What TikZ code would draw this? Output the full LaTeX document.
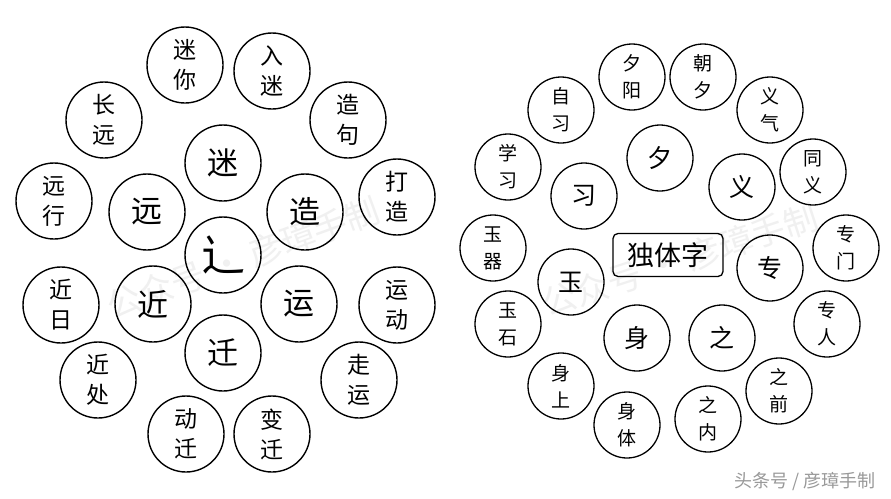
\documentclass[tikz,border=0pt]{standalone}
\usepackage{fontspec}
\newfontfamily\cjk{Noto Sans CJK SC}
\begin{document}
\begin{tikzpicture}[x=1pt,y=-1pt,
  wmark/.style={text=black!6,font=\cjk\fontsize{34}{34}\selectfont,inner sep=0},
  lbig/.style={circle,draw,line width=1.4pt,minimum size=76pt,inner sep=0,font=\cjk\fontsize{31}{31}\selectfont},
  lsmall/.style={circle,draw,line width=1.4pt,minimum size=76pt,inner sep=0,align=center,font=\cjk\fontsize{23}{30}\selectfont},
  rbig/.style={circle,draw,line width=1.3pt,minimum size=66pt,inner sep=0,font=\cjk\fontsize{25}{25}\selectfont},
  rsmall/.style={circle,draw,line width=1.3pt,minimum size=66pt,inner sep=0,align=center,font=\cjk\fontsize{19}{27}\selectfont},
  titlebox/.style={draw,line width=1.3pt,rounded corners=5pt,minimum width=110pt,minimum height=43pt,inner sep=0,font=\cjk\fontsize{27}{27}\selectfont},
  credit/.style={text=black!40,font=\cjk\fontsize{18}{18}\selectfont,inner sep=0}]
\useasboundingbox[fill=white] (0,0) rectangle (891,498);
% faint diagonal watermarks
\node[wmark,rotate=20] (wm1) at (243,258) {公众号 · 彦璋手制};
\node[wmark,rotate=18] (wm2) at (680,260) {公众号 · 彦璋手制};
% left cluster
\node[lbig,font=\cjk\fontsize{44}{44}\selectfont] (c0) at (223,255) {辶};
\node[lbig] (cmi) at (223,163) {迷};
\node[lbig] (cyuan) at (147,212) {远};
\node[lbig] (czao) at (305,212) {造};
\node[lbig] (cjin) at (153,304) {近};
\node[lbig] (cyun) at (299,304) {运};
\node[lbig] (cqian) at (223,353) {迁};
\node[lsmall] (s1) at (185,65) {迷\\你};
\node[lsmall] (s2) at (272,71) {入\\迷};
\node[lsmall] (s3) at (104,120) {长\\远};
\node[lsmall] (s4) at (348,120) {造\\句};
\node[lsmall] (s5) at (54,201) {远\\行};
\node[lsmall] (s6) at (397,197) {打\\造};
\node[lsmall] (s7) at (61,305) {近\\日};
\node[lsmall] (s8) at (397,305) {运\\动};
\node[lsmall] (s9) at (98,380) {近\\处};
\node[lsmall] (s10) at (359,380) {走\\运};
\node[lsmall] (s11) at (186,434) {动\\迁};
\node[lsmall] (s12) at (272,434) {变\\迁};
% right cluster
\node[titlebox] (t0) at (668,255) {独体字};
\node[rbig] (rxi) at (660,158) {夕};
\node[rbig] (rxi2) at (584,196) {习};
\node[rbig] (ryi) at (742,187) {义};
\node[rbig] (ryu) at (571,282) {玉};
\node[rbig] (rzhuan) at (770,268) {专};
\node[rbig] (rshen) at (637,338) {身};
\node[rbig] (rzhi) at (722,338) {之};
\node[rsmall] (r1) at (632,77) {夕\\阳};
\node[rsmall] (r2) at (703,77) {朝\\夕};
\node[rsmall] (r3) at (561,110) {自\\习};
\node[rsmall] (r4) at (770,110) {义\\气};
\node[rsmall] (r5) at (508,167) {学\\习};
\node[rsmall] (r6) at (813,172) {同\\义};
\node[rsmall] (r7) at (493,248) {玉\\器};
\node[rsmall] (r8) at (846,248) {专\\门};
\node[rsmall] (r9) at (508,324) {玉\\石};
\node[rsmall] (r10) at (827,324) {专\\人};
\node[rsmall] (r11) at (561,386) {身\\上};
\node[rsmall] (r12) at (779,391) {之\\前};
\node[rsmall] (r13) at (627,425) {身\\体};
\node[rsmall] (r14) at (708,419) {之\\内};
% credit
\node[credit] (cr) at (805,481) {头条号 / 彦璋手制};
\end{tikzpicture}
\end{document}
